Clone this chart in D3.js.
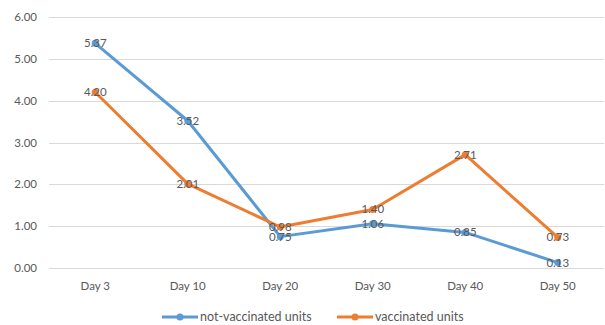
<html>
<head>
<meta charset="utf-8">
<style>
body { margin: 0; background: #fff; }
svg { font-family: Lato, "Open Sans", sans-serif; }
.grid line { stroke: #d9d9d9; stroke-width: 1; }
.lbl { fill: #595959; font-size: 11.5px; }
.leg { fill: #595959; font-size: 12.5px; }
</style>
</head>
<body>
<svg width="605" height="325"></svg>
<script src="https://cdn.jsdelivr.net/npm/d3@7"></script>
<script>
// data
var days = ["Day 3", "Day 10", "Day 20", "Day 30", "Day 40", "Day 50"];
var notVaccinated = [5.37, 3.52, 0.75, 1.06, 0.85, 0.13];
var vaccinated = [4.20, 2.01, 0.98, 1.40, 2.71, 0.73];
var yTicks = [0, 1, 2, 3, 4, 5, 6];

var series = [
  {name: "not-vaccinated units", values: notVaccinated, color: "#5b9bd5"},
  {name: "vaccinated units", values: vaccinated, color: "#ed7d31"}
];

var svg = d3.select("svg");
var plot = {left: 49, right: 604, top: 17, bottom: 268};

var x = d3.scalePoint().domain(days).range([plot.left, plot.right]).padding(0.5);
var y = d3.scaleLinear().domain([0, 6]).range([plot.bottom, plot.top]);

// gridlines
svg.append("g").attr("class", "grid")
  .selectAll("line").data(yTicks).enter().append("line")
  .attr("x1", plot.left).attr("x2", plot.right)
  .attr("y1", function(d) { return Math.round(y(d)) + 0.5; })
  .attr("y2", function(d) { return Math.round(y(d)) + 0.5; });

// y tick labels
svg.append("g").selectAll("text").data(yTicks).enter().append("text")
  .attr("class", "lbl")
  .attr("x", 37).attr("y", function(d) { return y(d); })
  .attr("dy", "0.35em").attr("text-anchor", "end")
  .text(function(d) { return d.toFixed(2); });

// x labels
svg.append("g").selectAll("text").data(days).enter().append("text")
  .attr("class", "lbl")
  .attr("x", function(d) { return x(d); }).attr("y", 286)
  .attr("dy", "0.35em").attr("text-anchor", "middle")
  .text(function(d) { return d; });

var line = d3.line()
  .x(function(d, i) { return x(days[i]); })
  .y(function(d) { return y(d); });

series.forEach(function(s) {
  var g = svg.append("g");
  g.append("path").datum(s.values)
    .attr("d", line).attr("fill", "none")
    .attr("stroke", s.color).attr("stroke-width", 3)
    .attr("stroke-linejoin", "round");
  g.selectAll("circle").data(s.values).enter().append("circle")
    .attr("cx", function(d, i) { return x(days[i]); })
    .attr("cy", function(d) { return y(d); })
    .attr("r", 3.5).attr("fill", s.color);
});

// data labels on top
series.forEach(function(s) {
  svg.append("g").selectAll("text").data(s.values).enter().append("text")
    .attr("class", "lbl")
    .attr("x", function(d, i) { return x(days[i]); })
    .attr("y", function(d) { return y(d); })
    .attr("dy", "0.35em").attr("text-anchor", "middle")
    .text(function(d) { return d.toFixed(2); });
});

// legend
var legX = [162, 337];
series.forEach(function(s, i) {
  var g = svg.append("g").attr("transform", "translate(" + legX[i] + ",317)");
  g.append("line").attr("x1", 0).attr("x2", 36)
    .attr("stroke", s.color).attr("stroke-width", 3);
  g.append("circle").attr("cx", 18).attr("r", 3.5).attr("fill", s.color);
  g.append("text").attr("class", "leg").attr("x", 38).attr("dy", "0.35em")
    .text(s.name);
});
</script>
</body>
</html>
